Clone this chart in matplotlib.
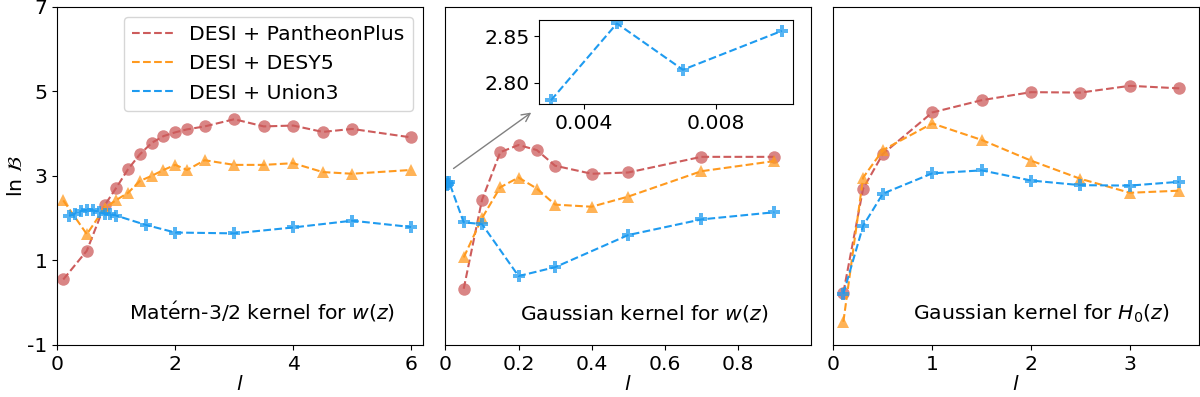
import matplotlib
matplotlib.use("Agg")
import matplotlib.pyplot as plt

FS = 14.7
plt.rcParams['font.family'] = ['DejaVu Sans']
plt.rcParams['font.size'] = FS
plt.rcParams['axes.unicode_minus'] = False

# ---- data ----
labels = ["DESI + PantheonPlus", "DESI + DESY5", "DESI + Union3"]
colors = ["#CD5C5C", "#FF9A1F", "#1E9BF0"]
markers = ["o", "^", "P"]

# Panel 1: Matern-3/2 kernel for w(z)
m_l_pp = [0.1, 0.5, 0.8, 1.0, 1.2, 1.4, 1.6, 1.8, 2.0, 2.2, 2.5, 3.0, 3.5, 4.0, 4.5, 5.0, 6.0]
m_pp = [0.55, 1.23, 2.30, 2.72, 3.16, 3.51, 3.78, 3.94, 4.03, 4.10, 4.17, 4.34, 4.17, 4.19, 4.04, 4.11, 3.91]
m_l_y5 = [0.1, 0.5, 0.8, 1.0, 1.2, 1.4, 1.6, 1.8, 2.0, 2.2, 2.5, 3.0, 3.5, 4.0, 4.5, 5.0, 6.0]
m_y5 = [2.42, 1.62, 2.24, 2.43, 2.60, 2.88, 3.00, 3.14, 3.26, 3.14, 3.37, 3.26, 3.26, 3.30, 3.09, 3.05, 3.14]
m_l_u3 = [0.2, 0.3, 0.4, 0.5, 0.6, 0.7, 0.8, 0.9, 1.0, 1.5, 2.0, 3.0, 4.0, 5.0, 6.0]
m_u3 = [2.05, 2.11, 2.17, 2.20, 2.19, 2.15, 2.10, 2.10, 2.06, 1.84, 1.66, 1.64, 1.78, 1.94, 1.79]

# Panel 2: Gaussian kernel for w(z)
g_l_pp = [0.05, 0.1, 0.15, 0.2, 0.25, 0.3, 0.4, 0.5, 0.7, 0.9]
g_pp = [0.33, 2.43, 3.56, 3.73, 3.61, 3.24, 3.05, 3.08, 3.45, 3.45]
g_l_y5 = [0.05, 0.1, 0.15, 0.2, 0.25, 0.3, 0.4, 0.5, 0.7, 0.9]
g_y5 = [1.07, 2.00, 2.73, 2.96, 2.70, 2.32, 2.27, 2.51, 3.11, 3.35]
g_l_u3 = [0.003, 0.005, 0.007, 0.01, 0.05, 0.1, 0.2, 0.3, 0.5, 0.7, 0.9]
g_u3 = [2.781, 2.864, 2.814, 2.856, 1.90, 1.86, 0.63, 0.84, 1.60, 1.97, 2.14]
inset_l = [0.003, 0.005, 0.007, 0.01]
inset_u3 = [2.781, 2.864, 2.814, 2.856]

# Panel 3: Gaussian kernel for H0(z)
h_l = [0.1, 0.3, 0.5, 1.0, 1.5, 2.0, 2.5, 3.0, 3.5]
h_pp = [0.24, 2.70, 3.52, 4.50, 4.79, 4.98, 4.97, 5.13, 5.07]
h_y5 = [-0.45, 2.96, 3.61, 4.24, 3.85, 3.36, 2.93, 2.60, 2.65]
h_u3 = [0.21, 1.82, 2.58, 3.06, 3.13, 2.89, 2.78, 2.77, 2.86]

yticks = [-1, 1, 3, 5, 7]
ytick_labels = ["-1", "1", "3", "5", "7"]

panels = [
    ([(m_l_pp, m_pp), (m_l_y5, m_y5), (m_l_u3, m_u3)], (0, 6.2), [0, 2, 4, 6], ["0", "2", "4", "6"],
     r"Mat$\acute{\rm e}$rn-3/2 kernel for $w(z)$", 0.196),
    ([(g_l_pp, g_pp), (g_l_y5, g_y5), (g_l_u3, g_u3)], (0, 1.0), [0, 0.2, 0.4, 0.6, 0.8],
     ["0", "0.2", "0.4", "0.6", "0.8"], r"Gaussian kernel for $w(z)$", 0.204),
    ([(h_l, h_pp), (h_l, h_y5), (h_l, h_u3)], (0, 3.7), [0, 1, 2, 3], ["0", "1", "2", "3"],
     r"Gaussian kernel for $H_0(z)$", 0.217),
]

fig, axes = plt.subplots(1, 3, figsize=(12, 3.97), dpi=100)
fig.subplots_adjust(left=0.0478, right=0.9992, bottom=0.131, top=0.983, wspace=0.0616)

for i, (ax, (series, xlim, xt, xtl, title, tx)) in enumerate(zip(axes, panels)):
    for (xs, ys), c, mk, lab in zip(series, colors, markers, labels):
        ax.plot(xs, ys, '--', color=c, lw=1.5, label=lab)
        ax.plot(xs, ys, linestyle='none', marker=mk, color=c, ms=9, alpha=0.75,
                markeredgewidth=0)
    ax.set_xlim(*xlim)
    ax.set_ylim(-1, 7)
    ax.set_xticks(xt)
    ax.set_xticklabels(xtl)
    ax.set_xlabel(r"$l$", labelpad=1)
    ax.text(tx, 0.074, title, transform=ax.transAxes, ha='left', va='baseline', fontsize=FS)
    if i == 0:
        ax.set_yticks(yticks)
        ax.set_yticklabels(ytick_labels)
        ax.set_ylabel(r"ln $\mathcal{B}$", labelpad=1)
        ax.legend(loc='upper right', fontsize=FS, handlelength=2.0)
    else:
        ax.set_yticks([])

# inset in panel 2
ax2 = axes[1]
ins = ax2.inset_axes([0.257, 0.712, 0.695, 0.250])
ins.plot(inset_l, inset_u3, '--', color=colors[2], lw=1.5)
ins.plot(inset_l, inset_u3, linestyle='none', marker='P', color=colors[2], ms=9, alpha=0.75,
         markeredgewidth=0)
ins.set_xticks([0.004, 0.008])
ins.set_xticklabels(["0.004", "0.008"])
ins.set_yticks([2.80, 2.85])
ins.set_yticklabels(["2.80", "2.85"])
ax2.annotate("", xy=(0.241, 0.692), xytext=(0.016, 0.517), xycoords='axes fraction',
             textcoords='axes fraction',
             arrowprops=dict(arrowstyle='->', color='gray', lw=1.0))

fig.savefig("out.png", dpi=100)
